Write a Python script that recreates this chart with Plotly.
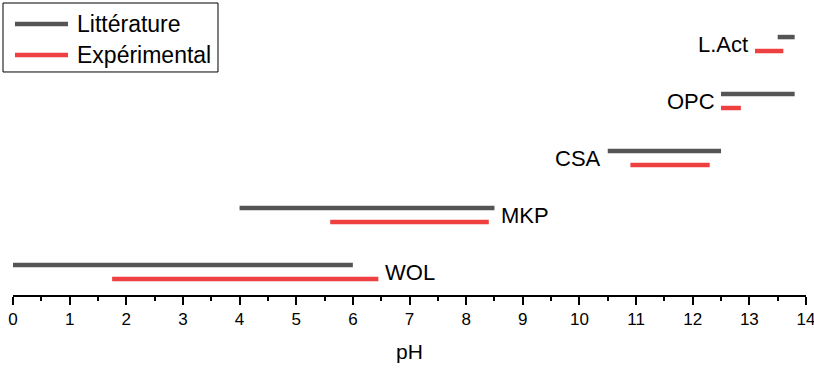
import plotly.graph_objects as go

categories = ["WOL", "MKP", "CSA", "OPC", "L.Act"]
lit_low = [0.0, 4.0, 10.5, 12.5, 13.5]
lit_high = [6.0, 8.5, 12.5, 13.8, 13.8]
exp_low = [1.75, 5.6, 10.9, 12.5, 13.1]
exp_high = [6.45, 8.4, 12.3, 12.85, 13.6]
label_side = ["right", "right", "left", "left", "left"]
x_ticks = list(range(0, 15))
series_names = ["Littérature", "Expérimental"]

GREY = "#555555"
RED = "#EE4040"
OFF = 0.245
FONT = "Liberation Sans, Arial"

fig = go.Figure()
for i, cat in enumerate(categories):
    y = i + 1
    fig.add_trace(go.Scatter(x=[lit_low[i], lit_high[i]], y=[y, y], mode="lines",
                             line=dict(color=GREY, width=4.5), name=series_names[0],
                             legendgroup="lit", showlegend=False))
    fig.add_trace(go.Scatter(x=[exp_low[i], exp_high[i]], y=[y - OFF, y - OFF], mode="lines",
                             line=dict(color=RED, width=4.5), name=series_names[1],
                             legendgroup="exp", showlegend=False))
    if label_side[i] == "right":
        xa = max(lit_high[i], exp_high[i]) + 0.08
        anchor = "left"
    else:
        xa = min(lit_low[i], exp_low[i]) - 0.08
        anchor = "right"
    fig.add_annotation(x=xa, y=y - OFF / 2, text=cat, showarrow=False, xref="x", yref="y",
                       xanchor=anchor, yanchor="middle",
                       font=dict(size=22, color="black", family=FONT))

# custom legend (box, line samples, real text labels)
fig.add_shape(type="rect", xref="paper", yref="paper", x0=-0.0126, x1=0.2585, y0=0.756, y1=0.9898,
              line=dict(color="black", width=1), fillcolor="white", layer="above")
for name, color, ly in zip(series_names, [GREY, RED], [0.9186, 0.8136]):
    fig.add_shape(type="line", xref="paper", yref="paper", x0=0.0025, x1=0.0694, y0=ly, y1=ly,
                  line=dict(color=color, width=4.5), layer="above")
    fig.add_annotation(x=0.0782, y=ly, xref="paper", yref="paper", text=name, showarrow=False,
                       xanchor="left", yanchor="middle", font=dict(size=23, color="black", family=FONT))

fig.update_layout(
    width=814, height=369,
    margin=dict(l=13, r=8, t=0, b=74, autoexpand=False),
    plot_bgcolor="white", paper_bgcolor="white",
    font=dict(family=FONT, color="black"),
    showlegend=False,
    xaxis=dict(range=[-0.0001, 14.0001], tickvals=x_ticks, ticktext=[str(t) for t in x_ticks],
               automargin=False, ticklabeloverflow="allow",
               showgrid=False, zeroline=False, showline=True, linecolor="black", linewidth=1.5,
               ticks="outside", ticklen=8, tickwidth=1.5, tickcolor="black",
               tickfont=dict(size=17),
               minor=dict(dtick=0.5, tick0=0, ticks="outside", ticklen=4, tickwidth=1.5, tickcolor="black"),
               title=dict(text="pH", font=dict(size=21), standoff=16)),
    yaxis=dict(range=[0.474, 5.65], visible=False, showgrid=False, zeroline=False),
)

fig.write_html("out.html", config={"displayModeBar": False},
               post_script="document.body.style.margin='0';document.body.style.overflow='hidden';")
